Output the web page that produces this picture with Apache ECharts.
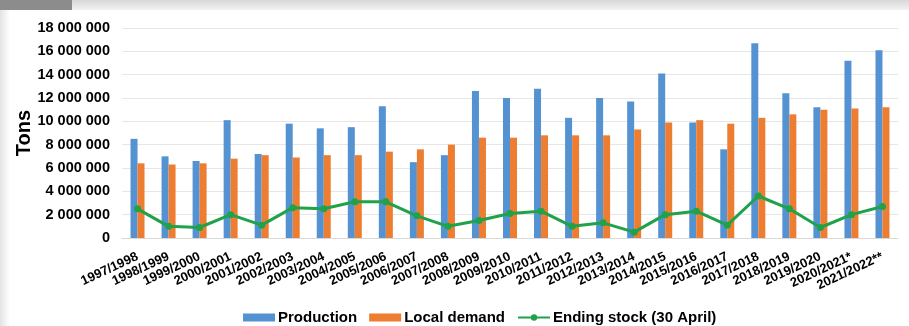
<!DOCTYPE html>
<html><head><meta charset="utf-8">
<script src="https://cdn.jsdelivr.net/npm/echarts@6/dist/echarts.min.js"></script>
<style>html,body{margin:0;padding:0;background:#fff}#c{width:909px;height:326px}</style>
</head><body><div id="c"></div>
<script>
const categories = ["1997/1998","1998/1999","1999/2000","2000/2001","2001/2002","2002/2003","2003/2004","2004/2005","2005/2006","2006/2007","2007/2008","2008/2009","2009/2010","2010/2011","2011/2012","2012/2013","2013/2014","2014/2015","2015/2016","2016/2017","2017/2018","2018/2019","2019/2020","2020/2021*","2021/2022**"];
const production = [8500000,7000000,6600000,10100000,7200000,9800000,9400000,9500000,11300000,6500000,7100000,12600000,12000000,12800000,10300000,12000000,11700000,14100000,9900000,7600000,16700000,12400000,11200000,15200000,16100000];
const localDemand = [6400000,6300000,6400000,6800000,7100000,6900000,7100000,7100000,7400000,7600000,8000000,8600000,8600000,8800000,8800000,8800000,9300000,9900000,10100000,9800000,10300000,10600000,11000000,11100000,11200000];
const endingStock = [2500000,1000000,900000,2000000,1100000,2600000,2500000,3100000,3100000,1900000,1000000,1500000,2100000,2300000,1000000,1300000,500000,2000000,2300000,1100000,3600000,2500000,900000,2000000,2700000];
const yTicks = {min:0, max:18000000, interval:2000000};

function fmt(v){return String(v).replace(/\B(?=(\d{3})+(?!\d))/g,' ');}
const chart = echarts.init(document.getElementById('c'));
const font = 'Liberation Sans, Arial, sans-serif';
chart.setOption({
  backgroundColor:'#fff',
  animation:false,
  textStyle:{fontFamily:font},
  graphic:[
    {type:'rect',shape:{x:72,y:0,width:837,height:10},style:{fill:{type:'linear',x:0,y:0,x2:0,y2:1,colorStops:[{offset:0,color:'#d8d8d8'},{offset:1,color:'#f2f2f2'}]}}},
    {type:'rect',shape:{x:0,y:0,width:72,height:10},style:{fill:'#8c8c8c'}},
    {type:'rect',shape:{x:0,y:10,width:10,height:316},style:{fill:{type:'linear',x:0,y:0,x2:1,y2:0,colorStops:[{offset:0,color:'#e4e4e4'},{offset:1,color:'#ffffff'}]}}}
  ],
  grid:{left:122,right:11,top:28,bottom:88,containLabel:false},
  legend:{
    top:305,left:238,itemWidth:32,itemHeight:8,itemGap:12,
    textStyle:{fontFamily:font,fontWeight:'bold',fontSize:15,color:'#000',padding:[0,0,0,-2]},
    data:[{name:'Production',icon:'rect'},{name:'Local demand',icon:'rect'},{name:'Ending stock (30 April)'}]
  },
  xAxis:{
    type:'category',data:categories,
    axisLine:{lineStyle:{color:'#d9d9d9'}},
    axisTick:{show:false},
    axisLabel:{interval:0,rotate:25,fontSize:13,fontWeight:'bold',color:'#000',margin:18,fontFamily:font}
  },
  yAxis:{
    type:'value',min:yTicks.min,max:yTicks.max,interval:yTicks.interval,
    name:'Tons',nameLocation:'middle',nameGap:88,nameRotate:90,nameMoveOverlap:false,
    nameTextStyle:{fontSize:20,fontWeight:'bold',color:'#000',fontFamily:font},
    axisLine:{show:false},axisTick:{show:false},
    splitLine:{lineStyle:{color:'#e6e6e6'}},
    axisLabel:{fontSize:14.5,fontWeight:'bold',color:'#000',margin:12,formatter:fmt,fontFamily:font}
  },
  series:[
    {name:'Production',type:'bar',data:production,barWidth:7,barGap:'0%',itemStyle:{color:'#5592D2'}},
    {name:'Local demand',type:'bar',data:localDemand,barWidth:7,itemStyle:{color:'#ED7D31'}},
    {name:'Ending stock (30 April)',type:'line',data:endingStock,symbol:'circle',symbolSize:7,
     lineStyle:{color:'#1FA24A',width:3},itemStyle:{color:'#1FA24A'}}
  ]
});
</script></body></html>
